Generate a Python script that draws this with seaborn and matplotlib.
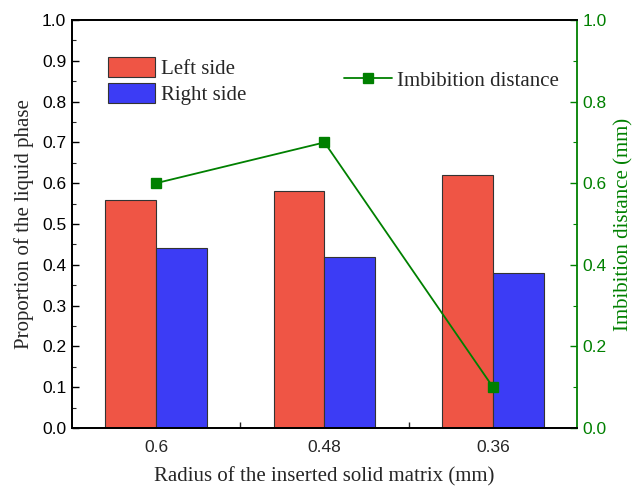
import numpy as np
import pandas as pd
import matplotlib
matplotlib.use("Agg")
import matplotlib.pyplot as plt
import seaborn as sns
from matplotlib.ticker import MultipleLocator, FixedLocator

# Data
radius = ["0.6", "0.48", "0.36"]
left_side = [0.56, 0.58, 0.62]
right_side = [0.44, 0.42, 0.38]
imbibition = [0.60, 0.70, 0.10]

bar_colors = ["#EF5545", "#3C3CF5"]
green = "#008000"
serif = "Liberation Serif"
sans = "Liberation Sans"

# Long-form table for seaborn
df = pd.DataFrame({
    "radius": radius * 2,
    "value": left_side + right_side,
    "side": ["Left side"] * 3 + ["Right side"] * 3,
})

sns.set_theme(style="white")
plt.rcParams["font.family"] = [sans, "DejaVu Sans"]

fig = plt.figure(figsize=(6.35, 4.88), dpi=100)
ax = fig.add_axes([0.113, 0.123, 0.796, 0.836])

sns.barplot(
    data=df, x="radius", y="value", hue="side", order=radius,
    palette=bar_colors, width=0.6, edgecolor="#333333", linewidth=0.8,
    saturation=1, ax=ax,
)

ax2 = ax.twinx()
sns.pointplot(
    x=radius, y=imbibition, order=radius, color=green, markers="s",
    markersize=6.5, linewidth=1.3, ax=ax2,
)

ax.set_xlim(-0.5, 2.5)
ax.set_ylim(0, 1.0)
ax2.set_ylim(0, 1.0)

# Left axis ticks
ax.yaxis.set_major_locator(MultipleLocator(0.1))
ax.yaxis.set_minor_locator(MultipleLocator(0.05))
ax.tick_params(axis="y", which="major", direction="in", length=5, width=1,
               labelsize=12.5, pad=4, colors="black", left=True)
ax.tick_params(axis="y", which="minor", direction="in", length=3, width=0.8,
               left=True)
ax.yaxis.set_major_formatter(matplotlib.ticker.FormatStrFormatter("%.1f"))

# x axis: labels at categories, ticks between them
ax.set_xticks(range(len(radius)))
ax.set_xticklabels(radius)
ax.xaxis.set_minor_locator(FixedLocator([0.5, 1.5]))
ax.tick_params(axis="x", which="major", length=0, labelsize=12.5, pad=9)
ax.tick_params(axis="x", which="minor", direction="in", length=4, width=1,
               bottom=True)

# Right axis
ax2.yaxis.set_major_locator(MultipleLocator(0.2))
ax2.yaxis.set_minor_locator(MultipleLocator(0.1))
ax2.yaxis.set_major_formatter(matplotlib.ticker.FormatStrFormatter("%.1f"))
ax2.tick_params(axis="y", which="major", direction="in", length=5, width=1,
                labelsize=12.5, colors=green, pad=4, right=True)
ax2.tick_params(axis="y", which="minor", direction="in", length=3, width=0.8,
                colors=green, right=True)

for a in (ax, ax2):
    for s in a.spines.values():
        s.set_linewidth(1.3)
        s.set_color("black")
ax2.spines["right"].set_color(green)
ax.spines["right"].set_visible(False)

for lab in ax.get_xticklabels() + ax.get_yticklabels() + ax2.get_yticklabels():
    lab.set_fontfamily([sans, "DejaVu Sans"])

ax.set_xlabel("Radius of the inserted solid matrix (mm)", fontsize=15,
              fontfamily=serif, labelpad=8)
ax.set_ylabel("Proportion of the liquid phase", fontsize=15,
              fontfamily=serif, labelpad=6)
ax2.set_ylabel("Imbibition distance (mm)", fontsize=15, fontfamily=serif,
               color=green, labelpad=5)

# Legends
handles, labels = ax.get_legend_handles_labels()
leg1 = ax.legend(handles, labels, loc="upper left",
                 bbox_to_anchor=(0.055, 0.93), frameon=False,
                 prop={"family": serif, "size": 15}, handlelength=2.25,
                 handleheight=1.1, labelspacing=0.2, handletextpad=0.3,
                 borderaxespad=0)
line_handle = ax2.lines[0]
leg2 = ax2.legend([line_handle], ["Imbibition distance"], loc="upper right",
                  bbox_to_anchor=(0.98, 0.895), frameon=False,
                  prop={"family": serif, "size": 15}, handlelength=2.3,
                  handletextpad=0.25, borderaxespad=0)

fig.savefig("out.png", dpi=100)
